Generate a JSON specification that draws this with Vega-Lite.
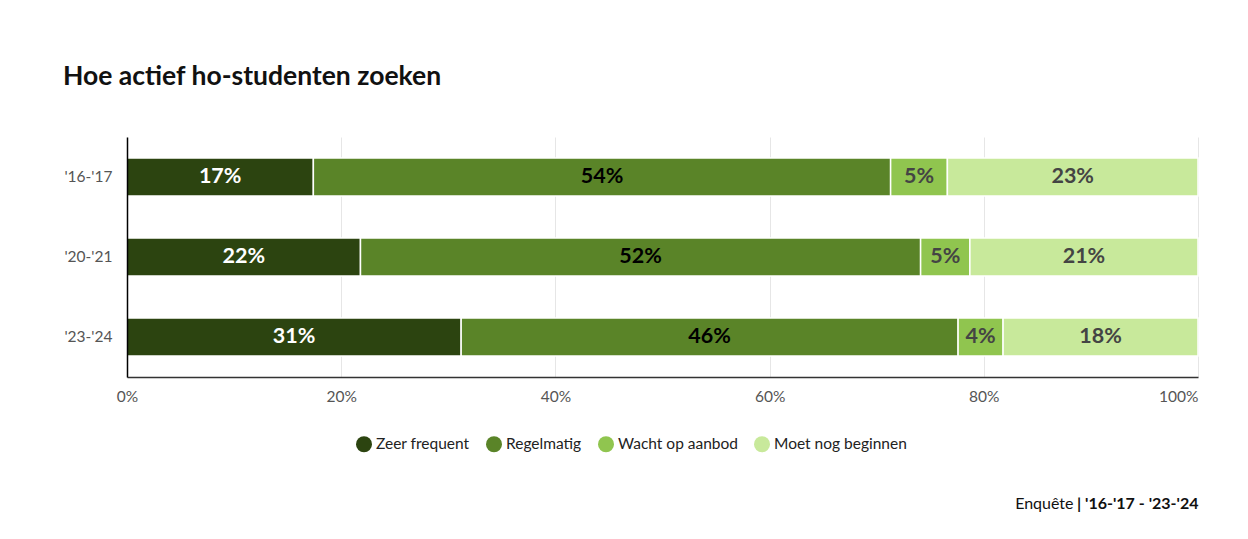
{
  "$schema": "https://vega.github.io/schema/vega-lite/v6.json",
  "width": 1071,
  "height": 240,
  "autosize": {"type": "none"},
  "padding": {"left": 127, "top": 137, "right": 50, "bottom": 162},
  "background": "white",
  "title": {
    "text": "Hoe actief ho-studenten zoeken",
    "anchor": "start",
    "frame": "group",
    "dx": -64,
    "offset": 47,
    "font": "Lato",
    "fontSize": 26.5,
    "fontWeight": "bold",
    "color": "#111111"
  },
  "data": {
    "values": [
      {"period": "'16-'17", "cat": "Zeer frequent", "rank": 1, "v": 0.174},
      {"period": "'16-'17", "cat": "Regelmatig", "rank": 2, "v": 0.539},
      {"period": "'16-'17", "cat": "Wacht op aanbod", "rank": 3, "v": 0.053},
      {"period": "'16-'17", "cat": "Moet nog beginnen", "rank": 4, "v": 0.234},
      {"period": "'20-'21", "cat": "Zeer frequent", "rank": 1, "v": 0.218},
      {"period": "'20-'21", "cat": "Regelmatig", "rank": 2, "v": 0.523},
      {"period": "'20-'21", "cat": "Wacht op aanbod", "rank": 3, "v": 0.046},
      {"period": "'20-'21", "cat": "Moet nog beginnen", "rank": 4, "v": 0.213},
      {"period": "'23-'24", "cat": "Zeer frequent", "rank": 1, "v": 0.312},
      {"period": "'23-'24", "cat": "Regelmatig", "rank": 2, "v": 0.464},
      {"period": "'23-'24", "cat": "Wacht op aanbod", "rank": 3, "v": 0.042},
      {"period": "'23-'24", "cat": "Moet nog beginnen", "rank": 4, "v": 0.182}
    ]
  },
  "transform": [
    {"stack": "v", "groupby": ["period"], "sort": [{"field": "rank", "order": "ascending"}], "as": ["v0", "v1"]},
    {"calculate": "(datum.v0 + datum.v1) / 2", "as": "vmid"}
  ],
  "encoding": {
    "y": {
      "field": "period",
      "type": "nominal",
      "sort": ["'16-'17", "'20-'21", "'23-'24"],
      "scale": {"paddingInner": 0.525, "paddingOuter": 0.2625},
      "axis": {
        "title": "Enquête",
        "titleAngle": 0,
        "titleX": 946,
        "titleY": 371,
        "titleAlign": "right",
        "titleBaseline": "alphabetic",
        "titleFont": "Lato",
        "titleFontSize": 16,
        "titleFontWeight": "normal",
        "titleColor": "#111111",
        "ticks": false,
        "labelPadding": 15,
        "labelFont": "Lato",
        "labelFontSize": 15.5,
        "labelColor": "#555555",
        "domainColor": "#000000",
        "domainWidth": 1.5,
        "grid": false,
        "zindex": 1
      }
    }
  },
  "layer": [
    {
      "mark": {"type": "bar", "stroke": "white", "strokeWidth": 1.5},
      "encoding": {
        "x": {
          "field": "v0",
          "type": "quantitative",
          "scale": {"domain": [0, 1]},
          "axis": {
            "values": [0, 0.2, 0.4, 0.6, 0.8, 1],
            "format": ".0%",
            "title": "| '16-'17 - '23-'24",
            "titleX": 1071,
            "titleY": 131,
            "titleAlign": "right",
            "titleBaseline": "alphabetic",
            "titleFont": "Lato",
            "titleFontSize": 16,
            "titleFontWeight": "bold",
            "titleColor": "#111111",
            "ticks": false,
            "labelPadding": 12,
            "labelFont": "Lato",
            "labelFontSize": 15.5,
            "labelColor": "#555555",
            "labelAlign": {"expr": "datum.value === 1 ? 'right' : 'center'"},
            "domainColor": "#333333",
            "domainWidth": 1.5,
            "grid": true,
            "gridColor": "#e6e6e6",
            "gridWidth": 1
          }
        },
        "x2": {"field": "v1"},
        "color": {
          "field": "cat",
          "type": "nominal",
          "sort": ["Zeer frequent", "Regelmatig", "Wacht op aanbod", "Moet nog beginnen"],
          "scale": {
            "domain": ["Zeer frequent", "Regelmatig", "Wacht op aanbod", "Moet nog beginnen"],
            "range": ["#2c4410", "#5a8428", "#90c54f", "#c8e99b"]
          },
          "legend": {
            "title": null,
            "orient": "none",
            "direction": "horizontal",
            "legendX": 229,
            "legendY": 299,
            "symbolType": "circle",
            "symbolSize": 256,
            "symbolStrokeWidth": 0,
            "symbolOpacity": 1,
            "labelFont": "Lato",
            "labelFontSize": 15.5,
            "labelColor": "#222222",
            "labelOffset": 4,
            "columnPadding": 16
          }
        }
      }
    },
    {
      "mark": {"type": "text", "font": "Lato", "fontSize": 21.5, "fontWeight": "bold", "align": "center", "baseline": "middle"},
      "encoding": {
        "x": {"field": "vmid", "type": "quantitative"},
        "text": {"field": "v", "type": "quantitative", "format": ".0%"},
        "color": {
          "field": "cat",
          "type": "nominal",
          "scale": {
            "domain": ["Zeer frequent", "Regelmatig", "Wacht op aanbod", "Moet nog beginnen"],
            "range": ["#ffffff", "#000000", "#444444", "#444444"]
          },
          "legend": null
        }
      }
    }
  ],
  "resolve": {"scale": {"color": "independent"}},
  "config": {
    "view": {"stroke": null},
    "font": "Lato"
  }
}
